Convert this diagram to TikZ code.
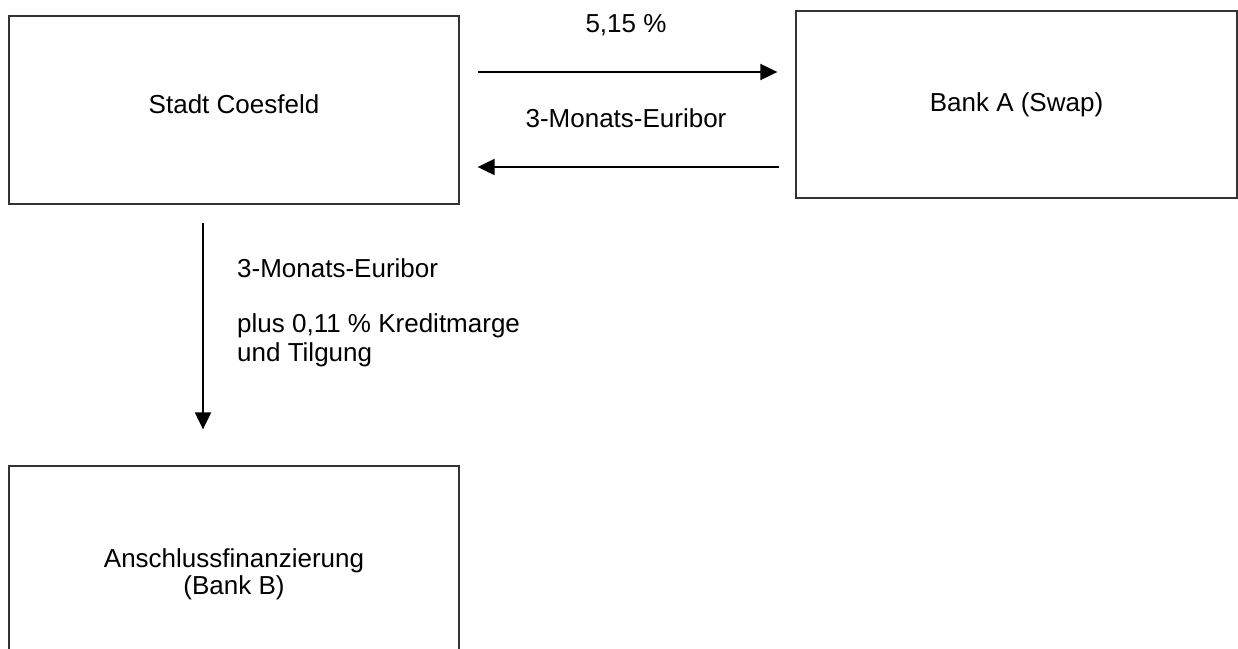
\documentclass[tikz,border=0pt]{standalone}
\usepackage{fontspec}
\setmainfont{Liberation Sans}
\usetikzlibrary{arrows.meta}
\begin{document}
\begin{tikzpicture}[x=1pt,y=-1pt,
  box/.style={draw=black!80,line width=1.3pt,rectangle,inner sep=0pt,align=center,font=\fontsize{26}{27}\selectfont},
  lbl/.style={inner sep=0pt,font=\fontsize{26}{29}\selectfont,align=left},
  arr/.style={line width=2pt,-{Triangle[length=17pt,width=16pt]}}]
\clip (0,0) rectangle (1238,648);
\useasboundingbox (0,0) rectangle (1238,648);
\node[box,minimum width=450pt,minimum height=188pt] (stadt) at (234,110) {};
\node[lbl] (stadttext) at (234,104) {Stadt Coesfeld};
\node[box,minimum width=441pt,minimum height=187pt] (banka) at (1016.5,104.5) {Bank A (Swap)};
\node[box,minimum width=450pt,minimum height=216pt] (bankb) at (234,574) {Anschlussfinanzierung\\(Bank B)};
\coordinate (y1) at (0,72);
\coordinate (y2) at (0,167);
\coordinate (xv) at (203,0);
\draw[arr,shorten <=18pt,shorten >=18pt] (stadt.east |- y1) -- (banka.west |- y1);
\draw[arr,shorten <=16pt,shorten >=18pt] (banka.west |- y2) -- (stadt.east |- y2);
\draw[arr,shorten <=18pt,shorten >=36pt] (stadt.south -| xv) -- (bankb.north -| xv);
\node[lbl] (l1) at (626,25) {5,15 \%};
\node[lbl] (l2) at (626,118) {3-Monats-Euribor};
\node[lbl,anchor=west] (l3) at (237,268) {3-Monats-Euribor};
\node[lbl,anchor=north west] (l4) at (237,313) {plus 0,11 \% Kreditmarge\\und Tilgung};
\end{tikzpicture}
\end{document}
